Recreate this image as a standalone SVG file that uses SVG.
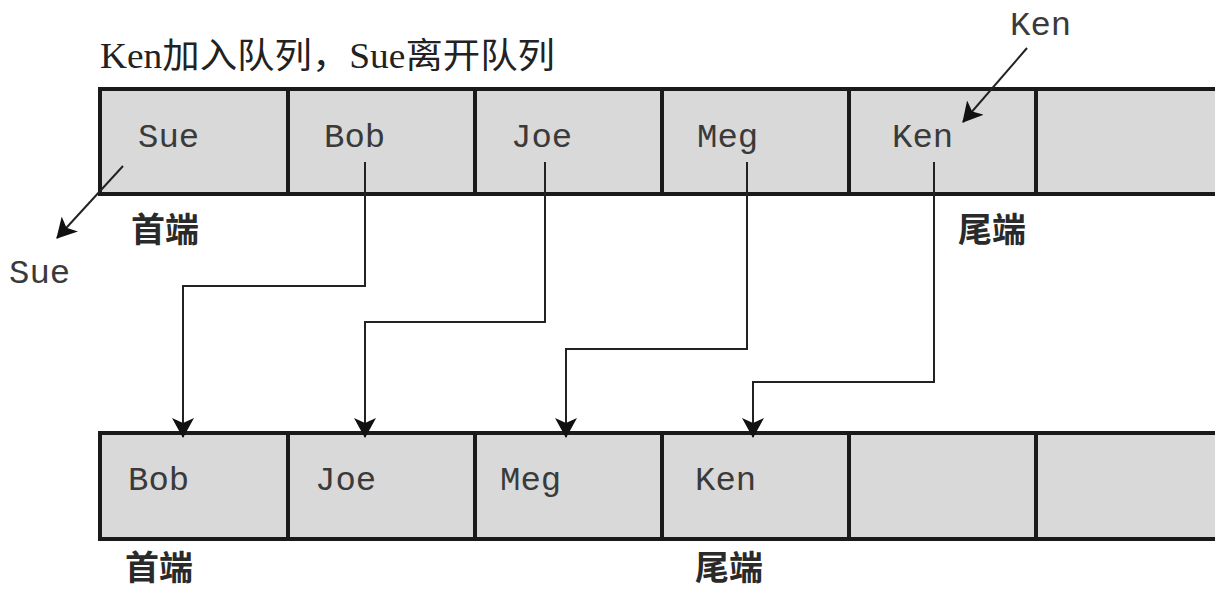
<svg xmlns="http://www.w3.org/2000/svg" width="1215" height="589" viewBox="0 0 1215 589">
<style>
.cell{fill:#d9d9d9;stroke:#1a1a1a;stroke-width:4}
.mono{font-family:"Liberation Mono","Courier New",monospace;font-size:34px;fill:#3a3a3a}
.lbl{font-family:"Liberation Serif","Noto Sans CJK SC",serif;font-size:34px;font-weight:bold;fill:#2a2a2a}
.title{font-family:"Liberation Serif","Noto Sans CJK SC",serif;font-size:35px;fill:#222}
.conn{fill:none;stroke:#222;stroke-width:2}
</style>
<defs>
<marker id="ah" viewBox="0 -11 20 22" refX="19" refY="0" markerWidth="20" markerHeight="22" markerUnits="userSpaceOnUse" orient="auto">
<path d="M0,-11 L20,0 L0,11 L5,0 z" fill="#111"/>
</marker>
</defs>
<rect width="1215" height="589" fill="#fff"/>
<text class="title" x="100" y="68" textLength="455" lengthAdjust="spacingAndGlyphs">Ken加入队列，Sue离开队列</text>
<g id="top-row">
<g id="t1"><rect class="cell" x="100" y="89" width="188" height="105"/><text class="mono" x="138" y="147">Sue</text></g>
<g id="t2"><rect class="cell" x="288" y="89" width="187" height="105"/><text class="mono" x="324" y="147">Bob</text></g>
<g id="t3"><rect class="cell" x="475" y="89" width="187" height="105"/><text class="mono" x="511" y="147">Joe</text></g>
<g id="t4"><rect class="cell" x="662" y="89" width="187" height="105"/><text class="mono" x="697" y="147">Meg</text></g>
<g id="t5"><rect class="cell" x="849" y="89" width="187" height="105"/><text class="mono" x="892" y="147">Ken</text></g>
<g id="t6"><rect class="cell" x="1036" y="89" width="200" height="105"/></g>
</g>
<g id="bottom-row">
<g id="b1"><rect class="cell" x="100" y="433" width="188" height="106"/><text class="mono" x="128" y="490">Bob</text></g>
<g id="b2"><rect class="cell" x="288" y="433" width="187" height="106"/><text class="mono" x="315" y="490">Joe</text></g>
<g id="b3"><rect class="cell" x="475" y="433" width="187" height="106"/><text class="mono" x="500" y="490">Meg</text></g>
<g id="b4"><rect class="cell" x="662" y="433" width="187" height="106"/><text class="mono" x="695" y="490">Ken</text></g>
<g id="b5"><rect class="cell" x="849" y="433" width="187" height="106"/></g>
<g id="b6"><rect class="cell" x="1036" y="433" width="200" height="106"/></g>
</g>
<g id="labels">
<text class="lbl" x="131" y="242">首端</text>
<text class="lbl" x="958" y="242">尾端</text>
<text class="lbl" x="125" y="580">首端</text>
<text class="lbl" x="695" y="580">尾端</text>
<text class="mono" x="9" y="283">Sue</text>
<text class="mono" x="1010" y="35">Ken</text>
</g>
<g id="connectors">
<path class="conn" d="M123,166 L57,238" marker-end="url(#ah)"/>
<path class="conn" d="M1027,48 L963,122" marker-end="url(#ah)"/>
<path class="conn" d="M365,162 V286 H183 V437" marker-end="url(#ah)"/>
<path class="conn" d="M545,162 V322 H365 V437" marker-end="url(#ah)"/>
<path class="conn" d="M747,162 V349 H566 V437" marker-end="url(#ah)"/>
<path class="conn" d="M934,162 V382 H753 V437" marker-end="url(#ah)"/>
</g>
</svg>
